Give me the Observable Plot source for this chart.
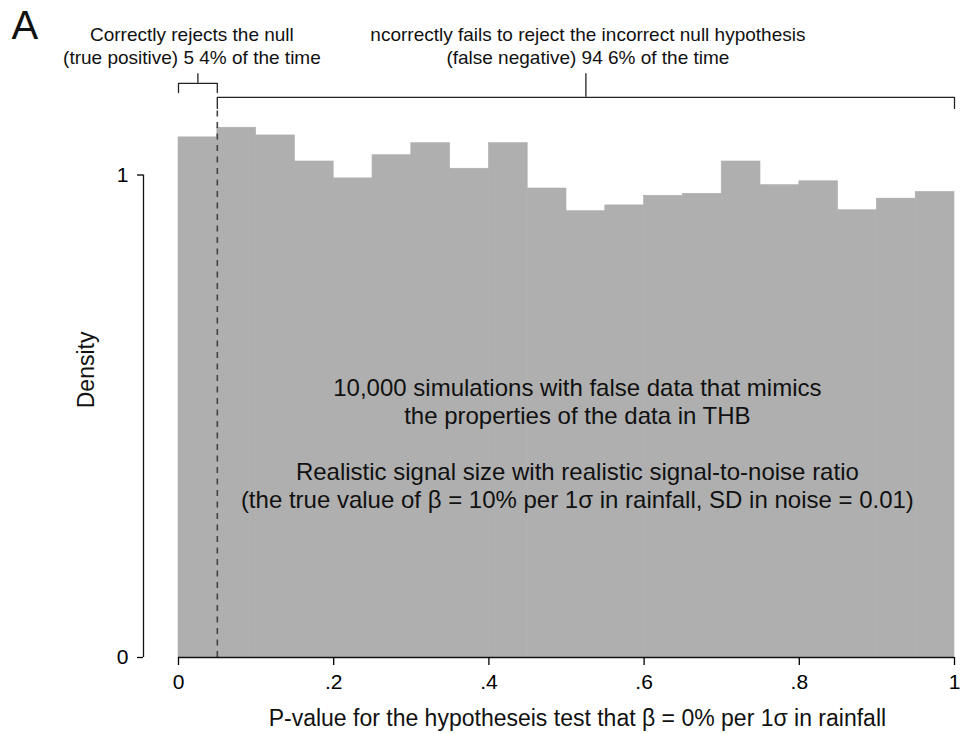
<!DOCTYPE html>
<html><head><meta charset="utf-8">
<script src="https://cdn.jsdelivr.net/npm/d3@7"></script>
<script src="https://cdn.jsdelivr.net/npm/@observablehq/plot@0.6"></script>
<style>body{margin:0;background:#fff}svg{display:block}</style>
</head><body><div id="chart"></div>
<script>
// Histogram bins (p-value) and densities
const binStarts = [0,0.05,0.10,0.15,0.20,0.25,0.30,0.35,0.40,0.45,0.50,0.55,0.60,0.65,0.70,0.75,0.80,0.85,0.90,0.95];
const binWidth = 0.05;
const density = [1.078,1.098,1.082,1.028,0.993,1.041,1.066,1.013,1.066,0.972,0.925,0.937,0.957,0.961,1.028,0.979,0.987,0.927,0.951,0.965];
const cutoff = 0.05;
const xTicks = [0,0.2,0.4,0.6,0.8,1];
const xTickLabels = ["0",".2",".4",".6",".8","1"];
const yTicks = [0,1];
const bracketStart = [0,0.05];
const bracketEnd = [0.05,1];
const bracketLabels = ["Correctly rejects the null\n(true positive) 5 4% of the time",
                       "ncorrectly fails to reject the incorrect null hypothesis\n(false negative) 94 6% of the time"];
const panelLabel = "A";
const xTitle = "P-value for the hypotheseis test that β = 0% per 1σ in rainfall";
const yTitle = "Density";
const noteText = "10,000 simulations with false data that mimics\nthe properties of the data in THB\n\nRealistic signal size with realistic signal-to-noise ratio\n(the true value of β = 10% per 1σ in rainfall, SD in noise = 0.01)";

const bins = binStarts.map((s,i)=>({x1:s, x2:s+binWidth, y:density[i]}));
// bracket geometry (layout levels in y units)
const bracketLevel = [1.190, 1.161];
const bracketDrop = [0.019, 0.023];
const stemTop = 1.210;
const brackets = bracketStart.map((s,i)=>({id:i, x1:s, x2:bracketEnd[i], mid:(s+bracketEnd[i])/2, level:bracketLevel[i], drop:bracketDrop[i], label:bracketLabels[i]}));
const bracketPts = brackets.flatMap(b=>[
  {id:b.id,x:b.x1,y:b.level-b.drop},{id:b.id,x:b.x1,y:b.level},
  {id:b.id,x:b.x2,y:b.level},{id:b.id,x:b.x2,y:b.level-b.drop}]);

const font = "'Liberation Sans', Arial, Helvetica, sans-serif";
const ink = "#111";
const chart = Plot.plot({
  width: 960, height: 734,
  marginLeft: 178, marginRight: 6, marginTop: 174.5, marginBottom: 77,
  x: {domain:[0,1]},
  y: {domain:[0,1]},
  style: {fontFamily: font, background: "white", color: "black", overflow: "visible"},
  marks: [
    Plot.rectY(bins, {x1:"x1", x2:"x2", y1:0, y2:"y", fill:"#afafaf", stroke:"#afafaf", strokeWidth:0.6, inset:0}),
    Plot.ruleX([cutoff], {y1:0, y2:1.138, stroke:"#444", strokeWidth:1.6, strokeDasharray:"6,5.5"}),
    Plot.ruleY([0], {x1:0, x2:1, stroke:ink, strokeWidth:1.3}),
    Plot.axisX(xTicks, {tickSize:8, tickPadding:9, fontSize:21, strokeWidth:1.3, tickFormat: d=>xTickLabels[xTicks.indexOf(d)], label:null}),
    Plot.ruleX([0], {y1:0, y2:1, dx:-35, stroke:ink, strokeWidth:1.3}),
    Plot.axisY(yTicks, {tickSize:6, tickPadding:9, dx:-35, fontSize:21, strokeWidth:1.3, tickFormat: d=>String(d), label:null}),
    Plot.line(bracketPts, {x:"x", y:"y", z:"id", stroke:"#222", strokeWidth:1.3}),
    Plot.ruleX(brackets, {x:"mid", y1:"level", y2:stemTop, stroke:"#222", strokeWidth:1.3}),
    Plot.text(brackets.slice(0,1), {x:"mid", y:1.231, dx:-6, text:"label", lineAnchor:"bottom", lineHeight:23/19, fontSize:19, fill:ink}),
    Plot.text(brackets.slice(1), {x:"mid", y:1.231, dx:2, text:"label", lineAnchor:"bottom", lineHeight:23/19, fontSize:19, fill:ink}),
    Plot.text([noteText], {x:0.514, y:0.309, text:d=>d, lineAnchor:"bottom", lineHeight:28/24, fontSize:24, fill:ink}),
    Plot.text([xTitle], {x:0.514, frameAnchor:"bottom", dy:68, lineAnchor:"bottom", text:d=>d, fontSize:23, fill:ink}),
    Plot.text([yTitle], {frameAnchor:"left", dx:-92, dy:-8, rotate:-90, text:d=>d, fontSize:23, fill:ink}),
    Plot.text([panelLabel], {frameAnchor:"top-left", dx:-167, dy:-164.5, textAnchor:"start", lineAnchor:"top", text:d=>d, fontSize:40, fill:ink})
  ]
});
document.getElementById("chart").appendChild(chart);
</script>
</body></html>
